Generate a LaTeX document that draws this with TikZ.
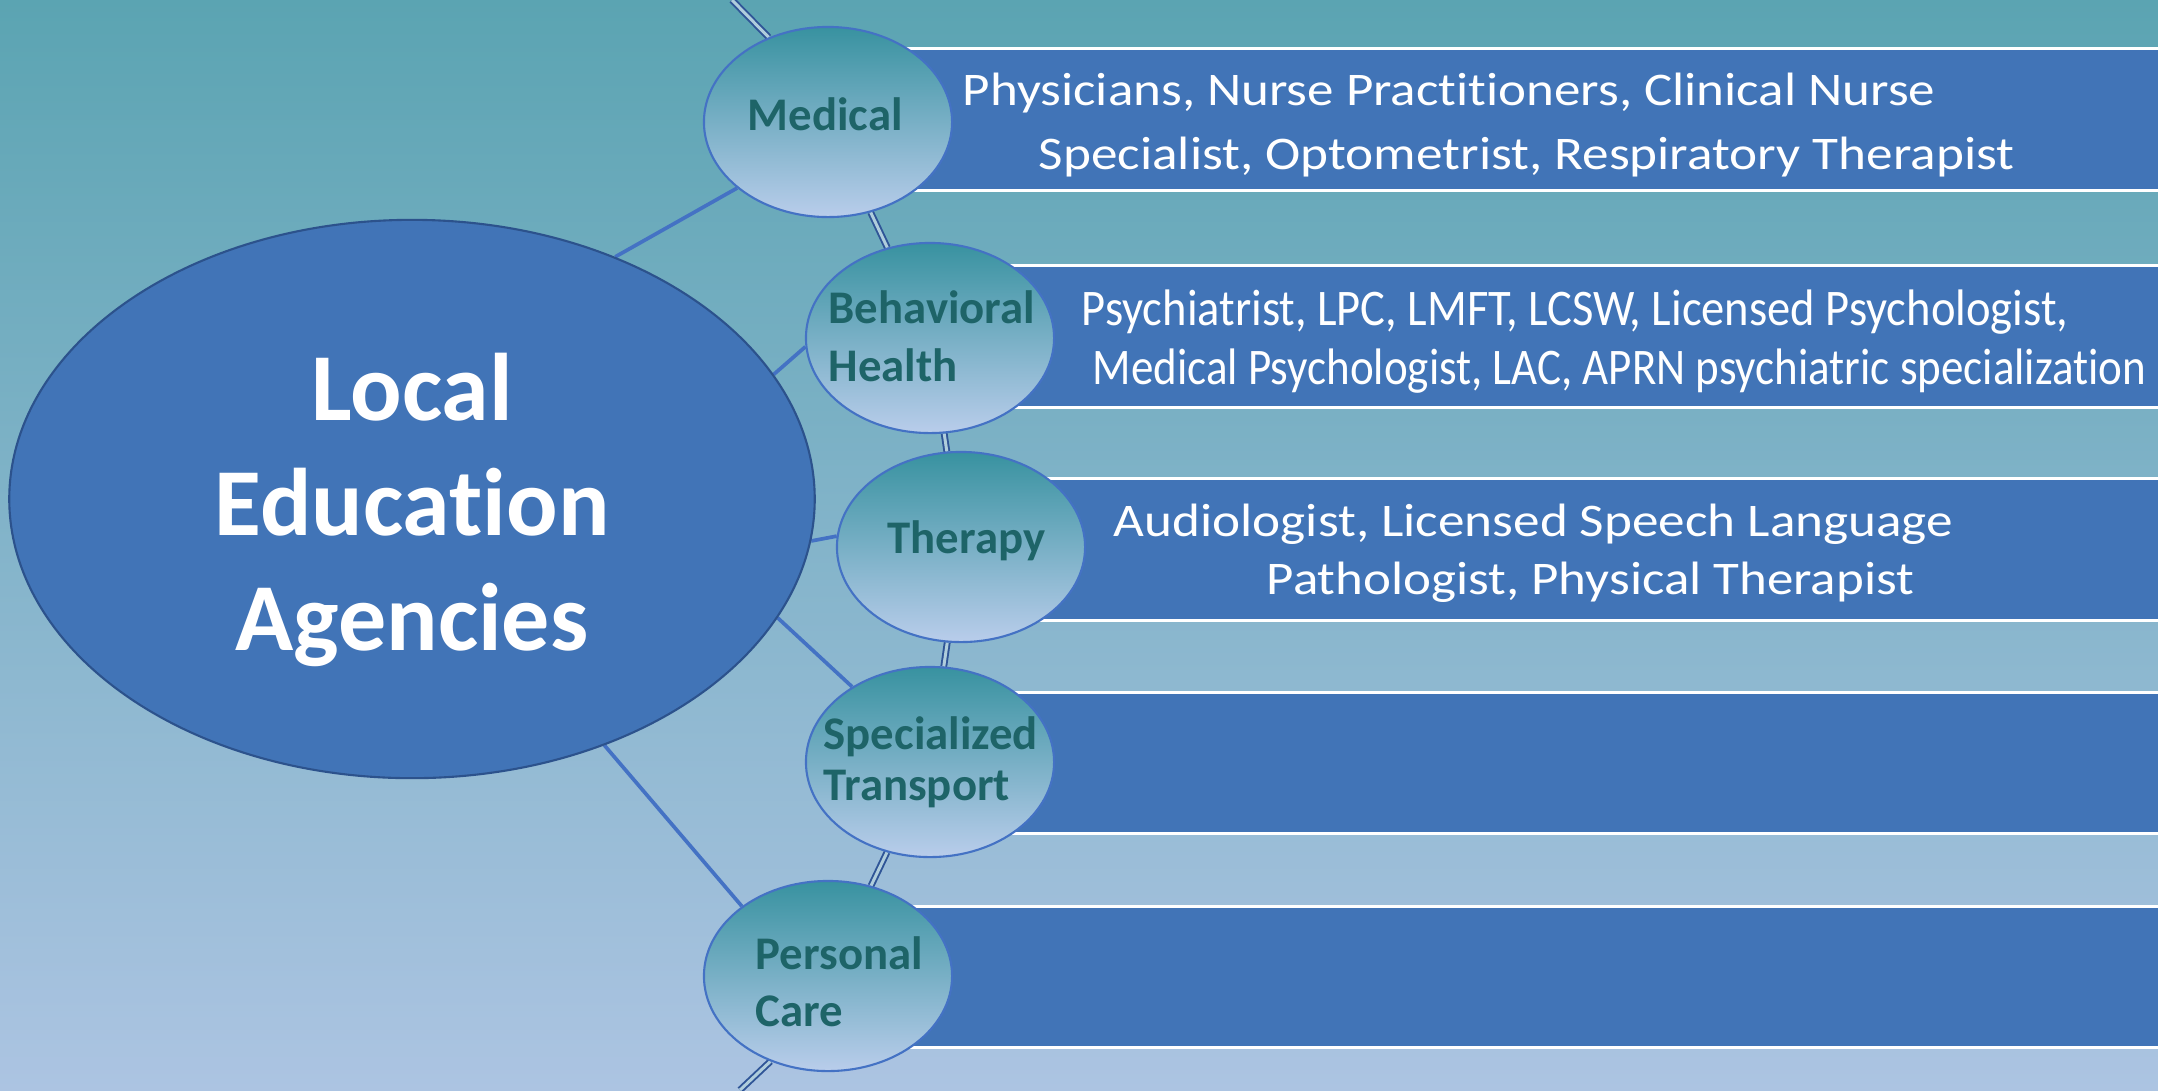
\documentclass[tikz,border=0pt]{standalone}
\usepackage{fontspec}
\setmainfont{Carlito}[Ligatures={NoCommon,NoContextual}]
\usepackage{graphicx}
\usetikzlibrary{shapes.geometric,backgrounds}

\definecolor{bgtop}{RGB}{91,164,178}
\definecolor{bgbot}{RGB}{172,196,226}
\definecolor{hubblue}{RGB}{65,116,183}
\definecolor{hubline}{RGB}{44,82,140}
\definecolor{branchline}{RGB}{68,114,196}
\definecolor{branchtop}{RGB}{56,146,160}
\definecolor{branchbot}{RGB}{185,205,235}
\definecolor{branchtext}{RGB}{30,100,104}
\definecolor{arcblue}{RGB}{47,85,151}
\definecolor{arcfill}{RGB}{175,205,220}

\tikzstyle{HubNode}=[ellipse, draw=hubline, fill=hubblue, line width=0.6pt, inner sep=0pt, minimum width=8.05cm, minimum height=5.58cm]
\tikzstyle{BranchNode}=[ellipse, draw=branchline, line width=0.6pt, top color=branchtop, bottom color=branchbot, inner sep=0pt, minimum width=2.48cm, minimum height=1.90cm]
\tikzstyle{HubText}=[text=white, font=\bfseries\fontsize{27.3}{32.7}\selectfont, align=center, inner sep=0pt]
\tikzstyle{BranchText}=[text=branchtext, font=\bfseries\fontsize{13.3}{16.5}\selectfont, align=left, inner sep=0pt, anchor=west]
\tikzstyle{ListText}=[text=white, font=\fontsize{13.3}{18.2}\selectfont, align=left, inner sep=0pt, anchor=west]
\tikzstyle{ListBar}=[fill=hubblue, draw=white, line width=0.85pt]
\tikzstyle{Spoke}=[draw=branchline, line width=1.05pt]
\tikzstyle{ArcEdge}=[draw=arcblue, line width=0.55pt, double=arcfill, double distance=0.85pt]

\newcommand{\fitline}[2]{\resizebox{#1}{\height}{#2}}

\begin{document}
\begin{tikzpicture}[x=0.01cm,y=-0.01cm]
\useasboundingbox (0,0) rectangle (2158,1090);
\begin{scope}[on background layer]
\fill[top color=bgtop, bottom color=bgbot] (0,0) rectangle (2158,1090);
\end{scope}
\clip (0,0) rectangle (2158,1090);

% bars behind the branches
\foreach \xl/\yt/\yb in {828/48/190, 930/265/407, 961/478/620, 930/692/833, 828/906/1047}
  \draw[ListBar] (\xl,\yt) rectangle (2170,\yb);

% hub and branches
\node[HubNode](lea) at (412,499) {};
\node[BranchNode](med) at (828,122) {};
\node[BranchNode](beh) at (930,338) {};
\node[BranchNode](ther) at (961,547) {};
\node[BranchNode](spec) at (930,762) {};
\node[BranchNode](pers) at (828,976) {};

\node[HubText](leatxt) at (412,510) {Local\\Education\\Agencies};
\node[BranchText](medtxt) at (747,114) {Medical};
\node[BranchText](behtxt) at (828,336) {Behavioral\\Health};
\node[BranchText](thertxt) at (887,541) {Therapy};
\node[BranchText, font=\bfseries\fontsize{13.3}{14.5}\selectfont](spectxt) at (823,762) {Specialized\\Transport};
\node[BranchText, font=\bfseries\fontsize{13.3}{16.2}\selectfont](perstxt) at (755,982) {Personal\\Care};

% lists
\node[ListText](medlist) at (962,125) {\fitline{9.72cm}{Physicians, Nurse Practitioners, Clinical Nurse}\\\hspace*{0.76cm}\fitline{9.75cm}{Specialist, Optometrist, Respiratory Therapist}};
\node[ListText, font=\fontsize{14.6}{16.8}\selectfont](behlist) at (1081,342) {\fitline{9.86cm}{Psychiatrist, LPC, LMFT, LCSW, Licensed Psychologist,}\\\hspace*{0.11cm}\fitline{10.53cm}{Medical Psychologist, LAC, APRN psychiatric specialization}};
\node[ListText, font=\fontsize{13.3}{16.5}\selectfont](therlist) at (1113,553) {\fitline{8.39cm}{Audiologist, Licensed Speech Language}\\\hspace*{1.53cm}\fitline{6.47cm}{Pathologist, Physical Therapist}};

% connectors
\coordinate (arctop) at (732,0);
\coordinate (arcbot) at (740,1090);
\begin{scope}[on background layer]
\draw[Spoke](lea.50) -- (med.216);
\draw[Spoke](lea.19.5) -- (beh.184);
\draw[Spoke](lea.354.6) -- (ther.175);
\draw[Spoke](lea.342) -- (spec.136.5);
\draw[Spoke](lea.308.5) -- (pers.141.5);

\draw[ArcEdge](arctop) -- (med.125);
\draw[ArcEdge](med) -- (beh);
\draw[ArcEdge](beh) -- (ther);
\draw[ArcEdge](ther) -- (spec);
\draw[ArcEdge](spec) -- (pers);
\draw[ArcEdge](pers.236) -- (arcbot);
\end{scope}
\end{tikzpicture}
\end{document}
